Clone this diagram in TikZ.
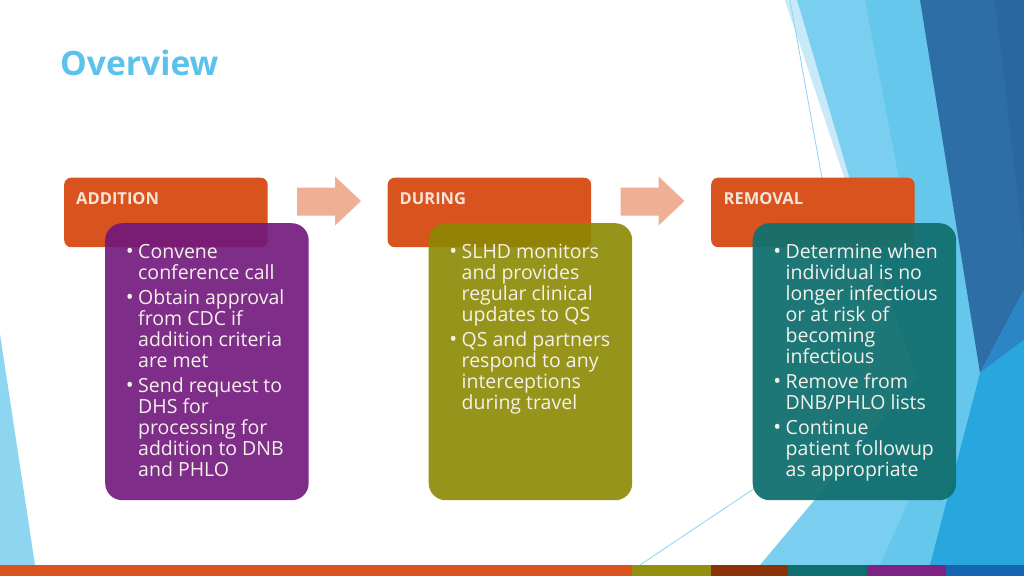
\documentclass[tikz,border=0pt]{standalone}
\usepackage{fontspec}
\setmainfont{Open Sans}
\definecolor{cOrange}{HTML}{D9531E}
\definecolor{cPurple}{HTML}{70177D}
\definecolor{cOlive}{HTML}{8B8903}
\definecolor{cTeal}{HTML}{127070}
\definecolor{cArrow}{HTML}{EFAF94}
\definecolor{cTitle}{HTML}{5BC2EB}
\definecolor{cHead}{HTML}{F6E4DA}
\definecolor{cBody}{HTML}{F5F1EA}
\definecolor{cLB}{HTML}{7ACEEF}
\definecolor{cLB2}{HTML}{66C7EC}
\definecolor{cPale}{HTML}{C8EAF8}
\definecolor{cDark}{HTML}{2E6EA6}
\definecolor{cDark2}{HTML}{2A66A0}
\definecolor{cMed}{HTML}{2C86C6}
\definecolor{cBright}{HTML}{28A7DF}
\definecolor{cSliver}{HTML}{8ED5F0}
\definecolor{cLine}{HTML}{8FD3EF}
\definecolor{bOlive}{HTML}{938F0F}
\definecolor{bBrown}{HTML}{8C3208}
\definecolor{bTeal}{HTML}{0F6E6E}
\definecolor{bPurple}{HTML}{7E2383}
\definecolor{bBlue}{HTML}{1565B2}
\newcommand\bul{\llap{{\fontsize{21}{21}\selectfont •}\hspace{4.5pt}}}
\begin{document}
\begin{tikzpicture}[x=1pt,y=-1pt,
  hdrbox/.style={fill=cOrange, rounded corners=7pt, minimum width=203.5pt, minimum height=69.5pt, anchor=north west, inner sep=0pt, draw=none},
  bodybox/.style={rounded corners=17pt, minimum width=203.5pt, minimum height=277pt, anchor=north west, inner sep=0pt, draw=none},
  htext/.style={anchor=base west, text=cHead, font=\fontsize{16.5}{20}\selectfont\bfseries, inner sep=0pt},
  btext/.style={anchor=base west, text=cBody, font=\fontsize{19.5}{21}\selectfont, inner sep=0pt},
  blockarrow/.style={fill=cArrow},
  thin/.style={draw=cLine, line width=0.8pt}
]
\useasboundingbox (0,0) rectangle (1024,576);
\fill[white] (0,0) rectangle (1024,576);
% left sliver
\fill[cSliver] (0,334) -- (35,565) -- (0,565) -- cycle;
% right decoration
\fill[cLB] (785,0) -- (1024,0) -- (1024,565) -- (760,565) -- (917,378) -- cycle;
\fill[cPale] (785,0) -- (797,0) -- (850,180) -- (845,180) -- cycle;
\fill[cLB2] (865,0) -- (920,0) -- (980,373) -- (935,565) -- (880,565) -- (945,420) -- cycle;
\fill[cDark] (920,0) -- (1024,0) -- (1024,290) -- (980,373) -- cycle;
\fill[cDark2] (995,0) -- (1024,0) -- (1024,250) -- cycle;
\fill[cMed] (980,373) -- (1024,290) -- (1024,340) -- cycle;
\fill[cBright] (930,565) -- (980,373) -- (1024,340) -- (1024,565) -- cycle;
\coordinate (t1) at (790,0);
\coordinate (t2) at (830,223);
\draw[thin] (t1) -- (t2);
\coordinate (t3) at (640,565);
\coordinate (t4) at (755,488);
\draw[thin] (t3) -- (t4);
% bottom bar
\fill[cOrange] (0,565) rectangle (632,576);
\fill[bOlive] (632,565) rectangle (711,576);
\fill[bBrown] (711,565) rectangle (788,576);
\fill[bTeal] (788,565) rectangle (867,576);
\fill[bPurple] (867,565) rectangle (946,576);
\fill[bBlue] (946,565) rectangle (1024,576);
% title
\node[anchor=base west, inner sep=0pt, text=cTitle, font=\fontsize{33.6}{40}\selectfont\bfseries] (title) at (60,75) {Overview};
% arrows
\fill[blockarrow] (297,187.5) -- (335,187.5) -- (335,176.5) -- (361,201) -- (335,225.5) -- (335,215.5) -- (297,215.5) -- cycle;
\fill[blockarrow] (620.5,187.5) -- (658.5,187.5) -- (658.5,176.5) -- (684.5,201) -- (658.5,225.5) -- (658.5,215.5) -- (620.5,215.5) -- cycle;
% header boxes
\node[hdrbox] (h1) at (64,177.5) {};
\node[hdrbox] (h2) at (387.5,177.5) {};
\node[hdrbox] (h3) at (711,177.5) {};
\node[htext] (h1t) at (76,204.3) {ADDITION};
\node[htext] (h2t) at (399.5,204.3) {DURING};
\node[htext] (h3t) at (723.5,204.3) {REMOVAL};
% body boxes
\node[bodybox, fill=cPurple, fill opacity=0.9] (b1) at (105,223) {};
\node[bodybox, fill=cOlive, fill opacity=0.9] (b2) at (428.5,223) {};
\node[bodybox, fill=cTeal, fill opacity=0.95] (b3) at (752.5,223) {};
% purple text
\node[btext] (a1) at (138,258) {\bul Convene};
\node[btext] (a2) at (138,279) {conference call};
\node[btext] (a3) at (138,304) {\bul Obtain approval};
\node[btext] (a4) at (138,325) {from CDC if};
\node[btext] (a5) at (138,346) {addition criteria};
\node[btext] (a6) at (138,367) {are met};
\node[btext] (a7) at (138,392) {\bul Send request to};
\node[btext] (a8) at (138,413) {DHS for};
\node[btext] (a9) at (138,434) {processing for};
\node[btext] (a10) at (138,455) {addition to DNB};
\node[btext] (a11) at (138,476) {and PHLO};
% olive text
\node[btext] (d1) at (461.5,258) {\bul SLHD monitors};
\node[btext] (d2) at (461.5,279) {and provides};
\node[btext] (d3) at (461.5,300) {regular clinical};
\node[btext] (d4) at (461.5,321) {updates to QS};
\node[btext] (d5) at (461.5,346) {\bul QS and partners};
\node[btext] (d6) at (461.5,367) {respond to any};
\node[btext] (d7) at (461.5,388) {interceptions};
\node[btext] (d8) at (461.5,409) {during travel};
% teal text
\node[btext] (r1) at (785.5,258) {\bul Determine when};
\node[btext] (r2) at (785.5,279) {individual is no};
\node[btext] (r3) at (785.5,300) {longer infectious};
\node[btext] (r4) at (785.5,321) {or at risk of};
\node[btext] (r5) at (785.5,342) {becoming};
\node[btext] (r6) at (785.5,363) {infectious};
\node[btext] (r7) at (785.5,388) {\bul Remove from};
\node[btext] (r8) at (785.5,409) {DNB/PHLO lists};
\node[btext] (r9) at (785.5,434) {\bul Continue};
\node[btext] (r10) at (785.5,455) {patient followup};
\node[btext] (r11) at (785.5,476) {as appropriate};
\end{tikzpicture}
\end{document}
